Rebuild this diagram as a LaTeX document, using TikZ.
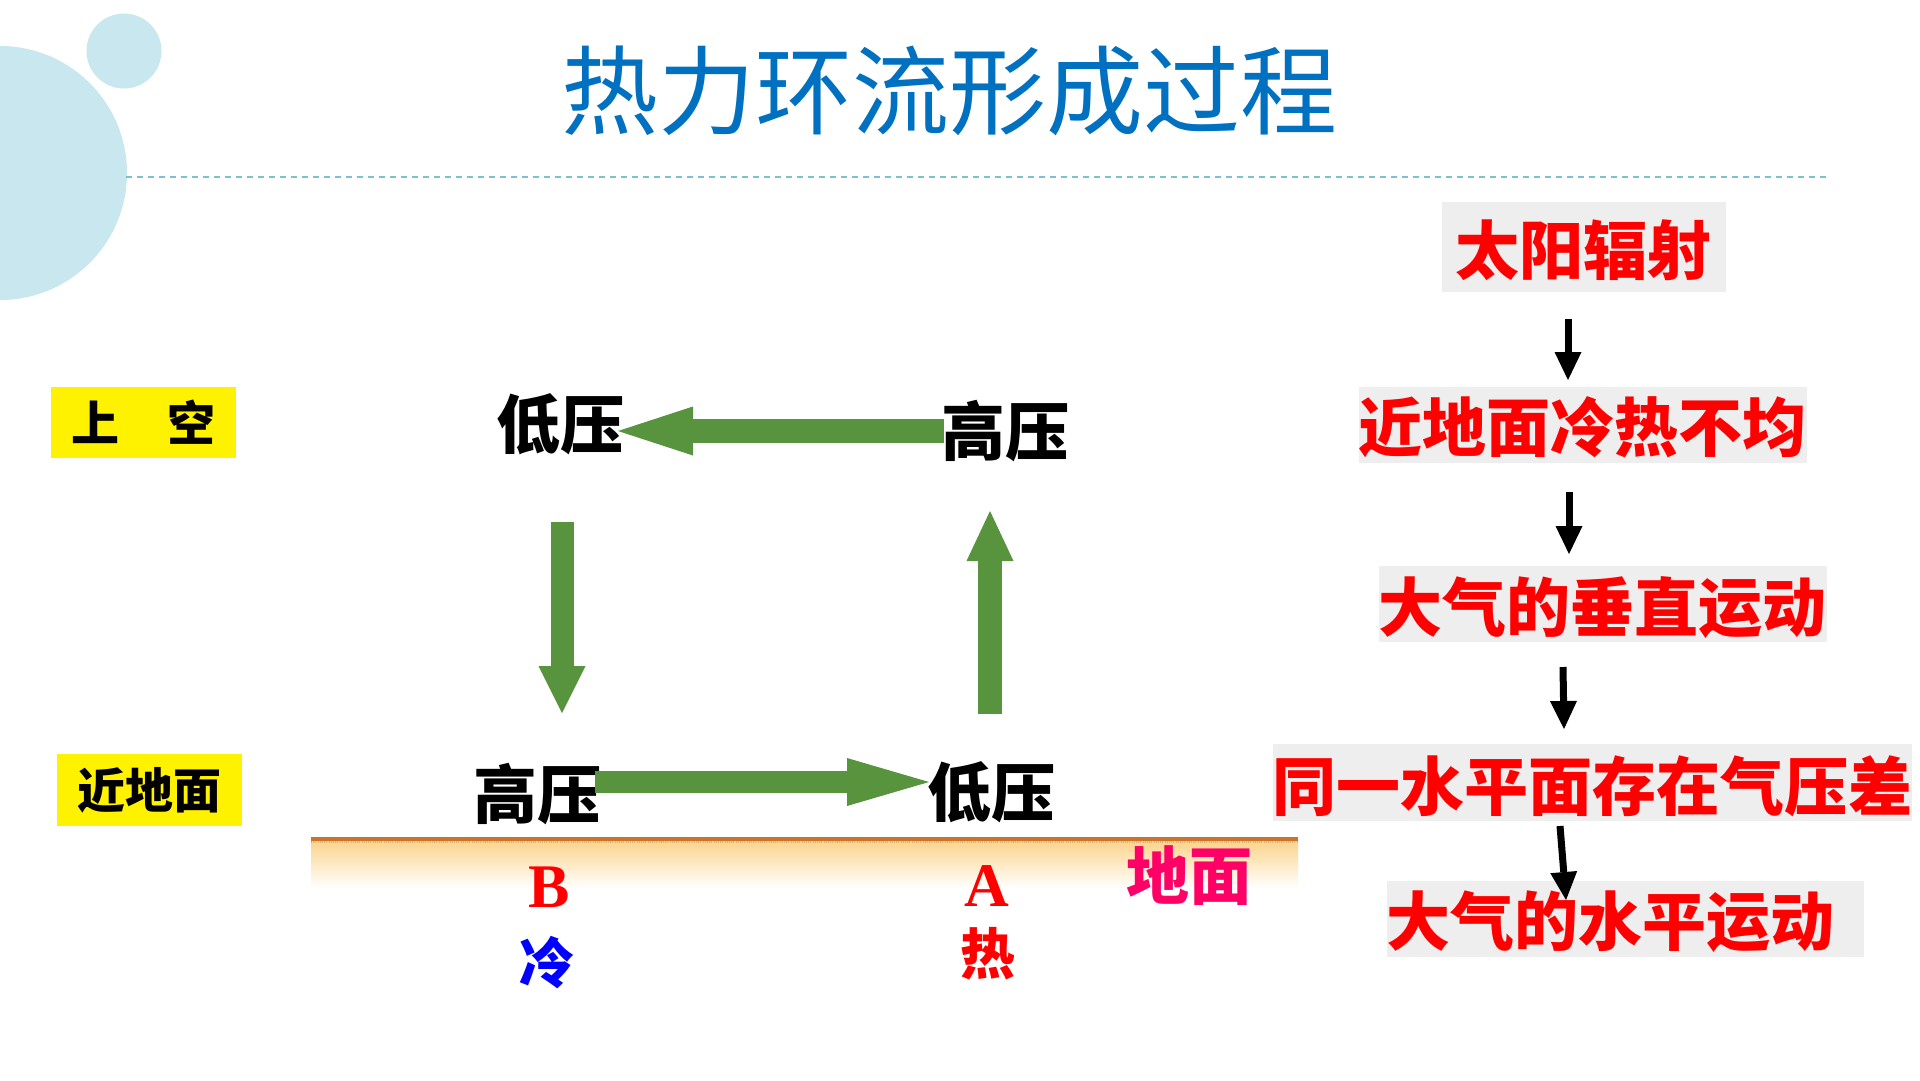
\documentclass[tikz,border=0pt]{standalone}
\usepackage{fontspec}
\usetikzlibrary{arrows.meta}
\newfontfamily\cjk{Noto Sans CJK SC}
\newfontfamily\latinserif{Liberation Serif}
\definecolor{bubble}{RGB}{201,231,238}
\definecolor{dashc}{RGB}{125,192,206}
\definecolor{titleblue}{RGB}{0,112,192}
\definecolor{flowgreen}{RGB}{88,148,62}
\definecolor{stepgray}{RGB}{238,238,238}
\definecolor{groundline}{RGB}{201,116,40}
\definecolor{groundfill}{RGB}{252,210,135}
\definecolor{pinkred}{RGB}{255,0,102}
\definecolor{pureblue}{RGB}{0,0,255}
\definecolor{purered}{RGB}{255,0,0}
\begin{document}
\begin{tikzpicture}[x=1pt,y=-1pt,
  every node/.style={inner sep=0pt, outer sep=0pt},
  stepbox/.style={fill=stepgray},
  steptext/.style={text=purered, font=\cjk\bfseries\fontsize{64}{64}\selectfont},
  levelbox/.style={fill=yellow, minimum width=185pt, minimum height=71pt, font=\cjk\bfseries\fontsize{48}{48}\selectfont},
  pressure/.style={font=\cjk\bfseries\fontsize{64}{64}\selectfont},
  greenflow/.style n args={3}{flowgreen, line width=#1, -{Triangle[width=#2,length=#3,line width=0pt]}},
  blkflow/.style={black, line width=7pt, -{Triangle[width=27pt,length=28pt,line width=0pt]}},
]
\useasboundingbox (0,0) rectangle (1920,1080);
\fill[white] (0,0) rectangle (1920,1080);
% decorative bubbles
\begin{scope}
\clip (0,0) rectangle (1920,1080);
\fill[bubble] (0,173) circle[radius=127pt];
\end{scope}
\fill[bubble] (124,51) circle[radius=37.5pt];
\draw[dashc, line width=1.5pt, dash pattern=on 6pt off 5pt] (126,177) -- (1828,177);
% title
\node[text=titleblue, font=\cjk\fontsize{97}{100}\selectfont] (title) at (949,91) {热力环流形成过程};

% level labels
\node[levelbox] (upper) at (143.5,422.5) {上\hspace{1em}空};
\node[levelbox, minimum height=72pt] (near) at (149.5,790) {近地面};

% ground
\shade[top color=groundfill, bottom color=white] (311,839) rectangle (1298,888);
\draw[groundline, line width=4pt] (311,838.5) -- (1298,838.5);
\draw[groundline!60, line width=1.5pt, dash pattern=on 1pt off 1.2pt] (311,842) -- (1298,842);

% pressure labels
\node[pressure] (lpTop) at (560,424) {低压};
\node[pressure] (hpTop) at (1005,431) {高压};
\node[pressure] (hpBot) at (537,794) {高压};
\node[pressure] (lpBot) at (991,792) {低压};

% green flow arrows
\coordinate (g1s) at (944,431);  \coordinate (g1e) at (618,431);
\coordinate (g2s) at (562,522);  \coordinate (g2e) at (562,713);
\coordinate (g3s) at (990,714);  \coordinate (g3e) at (990,511);
\coordinate (g4s) at (595,782);  \coordinate (g4e) at (929,782);
\draw[greenflow={24pt}{49pt}{75pt}] (g1s) -- (g1e);
\draw[greenflow={23pt}{47pt}{47pt}] (g2s) -- (g2e);
\draw[greenflow={24pt}{47pt}{50pt}] (g3s) -- (g3e);
\draw[greenflow={22pt}{48pt}{82pt}] (g4s) -- (g4e);

% ground labels
\node[text=purered, font=\latinserif\bfseries\fontsize{62}{62}\selectfont] (B) at (549,887) {B};
\node[text=purered, font=\latinserif\bfseries\fontsize{62}{62}\selectfont] (A) at (987,886) {A};
\node[text=pureblue, font=\cjk\bfseries\fontsize{55}{55}\selectfont] (cold) at (547,963) {冷};
\node[text=purered, font=\cjk\bfseries\fontsize{55}{55}\selectfont] (hot) at (988,954) {热};
\node[text=pinkred, font=\cjk\bfseries\fontsize{63}{63}\selectfont] (ground) at (1189,876) {地面};

% right chain
\node[stepbox, minimum width=284pt, minimum height=90pt] (b1) at (1584,247) {};
\node[stepbox, minimum width=448pt, minimum height=76pt] (b2) at (1583,424.5) {};
\node[stepbox, minimum width=448pt, minimum height=76pt] (b3) at (1603,604) {};
\node[stepbox, minimum width=639pt, minimum height=77pt] (b4) at (1592.5,782.5) {};
\node[stepbox, minimum width=477pt, minimum height=76pt] (b5) at (1625.5,919) {};
\node[steptext] (t1) at (1583,250) {太阳辐射};
\node[steptext] (t2) at (1582.5,427.5) {近地面冷热不均};
\node[steptext] (t3) at (1602.5,607.5) {大气的垂直运动};
\node[steptext] (t4) at (1592.5,786) {同一水平面存在气压差};
\node[steptext] (t5) at (1610,922) {大气的水平运动};

\coordinate (a1s) at (1568,319); \coordinate (a1e) at (1568,380);
\coordinate (a2s) at (1569,492); \coordinate (a2e) at (1569,554);
\coordinate (a3s) at (1563,667); \coordinate (a3e) at (1564,729);
\coordinate (a4s) at (1560,826); \coordinate (a4e) at (1566,900);
\draw[blkflow] (a1s) -- (a1e);
\draw[blkflow] (a2s) -- (a2e);
\draw[blkflow] (a3s) -- (a3e);
\draw[blkflow] (a4s) -- (a4e);
\end{tikzpicture}
\end{document}
